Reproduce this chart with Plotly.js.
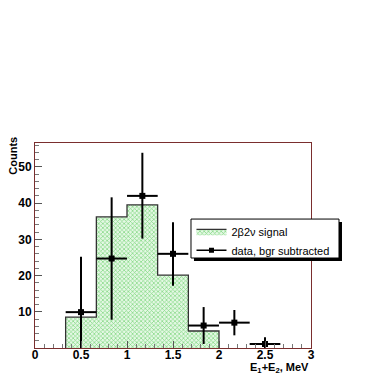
<!DOCTYPE html>
<html>
<head>
<meta charset="utf-8">
<script src="https://cdn.plot.ly/plotly-3.0.1.min.js"></script>
<style>
  html, body { margin: 0; padding: 0; background: #fff; }
  #chart { width: 374px; height: 374px; }
</style>
</head>
<body>
<div id="chart"></div>
<script>
// histogram: 2b2v signal (bin edges and contents)
const binEdges = [0.333, 0.667, 1.0, 1.333, 1.667, 2.0];
const binCounts = [8.5, 36.2, 39.5, 20.1, 4.7];

// data points, background subtracted
const dataX = [0.5, 0.833, 1.167, 1.5, 1.833, 2.167, 2.5];
const dataY = [9.9, 24.7, 42.0, 26.0, 6.2, 7.0, 1.1];
const errUp = [15.3, 16.9, 11.9, 8.7, 5.1, 3.5, 1.9];
const errDown = [9.9, 16.9, 11.8, 8.8, 5.1, 3.5, 1.1];
const halfBin = 0.1667;

const xTicks = [0, 0.5, 1, 1.5, 2, 2.5, 3];
const yTicks = [10, 20, 30, 40, 50];

function stepOutline(edges, counts) {
  const x = [edges[0]];
  const y = [0];
  for (let i = 0; i < counts.length; i++) {
    x.push(edges[i], edges[i + 1]);
    y.push(counts[i], counts[i]);
  }
  x.push(edges[edges.length - 1]);
  y.push(0);
  return { x, y };
}

const step = stepOutline(binEdges, binCounts);
const frameColor = "#7a2e2e";
const sans = "Liberation Sans, Arial, sans-serif";
const tickFont = { family: sans, size: 12, weight: "bold", color: "#000" };

const traces = [
  {
    x: step.x,
    y: step.y,
    mode: "lines",
    name: "2\u03b22\u03bd signal",
    fill: "toself",
    fillcolor: "#c8f0c8",
    fillpattern: { shape: "x", fgcolor: "#7fd67f", bgcolor: "#e4f8e4", size: 3, solidity: 0.4 },
    line: { color: "#333", width: 1.3 }
  },
  {
    x: dataX,
    y: dataY,
    mode: "markers",
    showlegend: false,
    marker: { symbol: "square", size: 6, color: "#000" },
    error_y: { type: "data", symmetric: false, array: errUp, arrayminus: errDown, color: "#000", thickness: 2, width: 0 },
    error_x: { type: "constant", value: halfBin, color: "#000", thickness: 2, width: 0 }
  },
  {
    x: [null],
    y: [null],
    mode: "lines+markers",
    name: "data, bgr subtracted",
    marker: { symbol: "square", size: 5, color: "#000" },
    line: { color: "#000", width: 1.5 }
  }
];

const layout = {
  width: 374,
  height: 374,
  margin: { l: 35, r: 63, t: 143, b: 26 },
  paper_bgcolor: "#fff",
  plot_bgcolor: "#fff",
  showlegend: true,
  legend: {
    x: 0.567, y: 0.64, xanchor: "left", yanchor: "top",
    bgcolor: "rgba(0,0,0,0)", borderwidth: 0,
    font: { family: sans, size: 11, color: "#000" },
    tracegroupgap: 0,
    itemwidth: 30
  },
  xaxis: {
    range: [0, 3],
    tickvals: xTicks,
    ticktext: xTicks.map(String),
    ticks: "inside", ticklen: 7, tickcolor: "#555",
    ticklabelstandoff: -4,
    minor: { dtick: 0.1, ticks: "inside", ticklen: 4, tickcolor: "#777" },
    showgrid: false, zeroline: false,
    showline: true, linecolor: frameColor, linewidth: 1, mirror: true,
    tickfont: tickFont
  },
  yaxis: {
    range: [0, 56.6],
    tickvals: yTicks,
    ticktext: yTicks.map(String),
    ticks: "inside", ticklen: 7, tickcolor: "#555",
    minor: { dtick: 2, ticks: "inside", ticklen: 4, tickcolor: "#777" },
    showgrid: false, zeroline: false,
    showline: true, linecolor: frameColor, linewidth: 1, mirror: true,
    tickfont: tickFont
  },
  shapes: [
    // legend shadow
    {
      type: "rect", xref: "paper", yref: "paper",
      x0: 0.576, x1: 1.1123, y0: 0.4244, y1: 0.6146,
      fillcolor: "#000", line: { width: 0 }, layer: "above"
    },
    // legend box
    {
      type: "rect", xref: "paper", yref: "paper",
      x0: 0.5652, x1: 1.1014, y0: 0.439, y1: 0.629,
      fillcolor: "#fff", line: { color: "#000", width: 1 }, layer: "above"
    }
  ],
  annotations: [
    {
      text: "Counts", xref: "paper", yref: "paper",
      x: -0.08, y: 1.04, xanchor: "center", yanchor: "top",
      textangle: -90, showarrow: false,
      font: { family: sans, size: 11, weight: "bold", color: "#000" }
    },
    {
      text: "E<sub>1</sub>+E<sub>2</sub>, MeV", xref: "paper", yref: "paper",
      x: 1.0, y: -0.055, xanchor: "right", yanchor: "top", showarrow: false,
      font: { family: sans, size: 11, weight: "bold", color: "#000" }
    }
  ]
};

Plotly.newPlot("chart", traces, layout, { displayModeBar: false, staticPlot: true });
</script>
</body>
</html>
